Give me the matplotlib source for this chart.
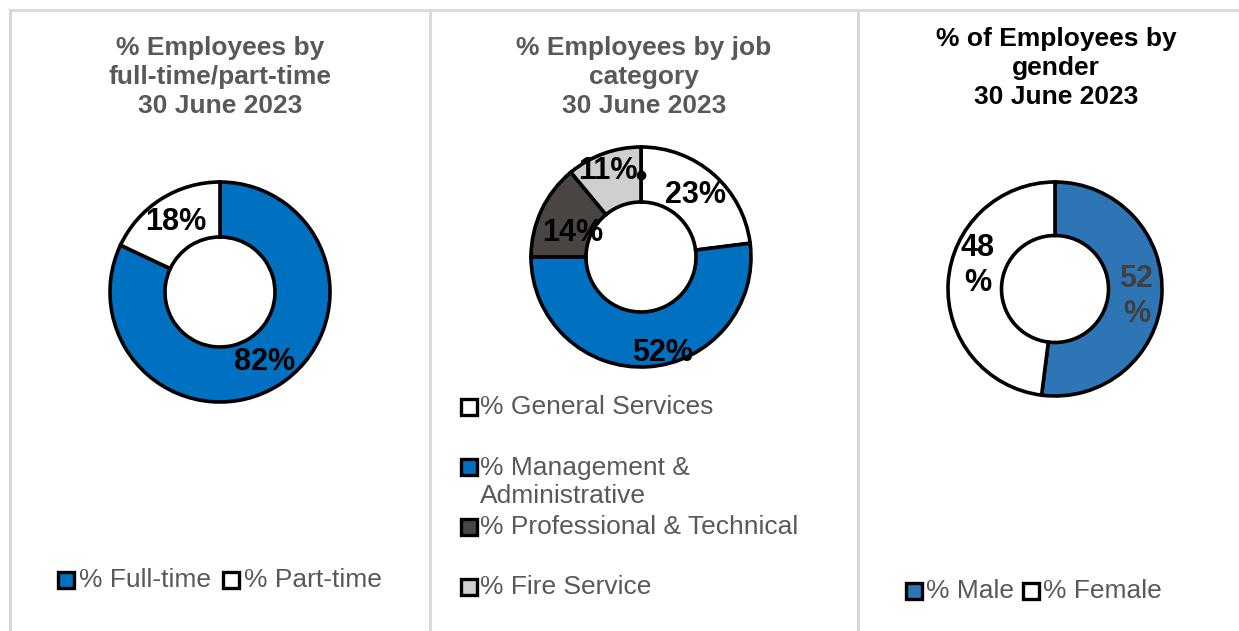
import matplotlib
matplotlib.use("Agg")
from matplotlib import pyplot as plt
from matplotlib.patches import Rectangle
from matplotlib.lines import Line2D

plt.rcParams['font.family'] = ['Liberation Sans', 'DejaVu Sans']

W, H = 1239, 631

# Data
ft_labels = ["% Full-time", "% Part-time"]
ft_values = [82, 18]
ft_colors = ["#0070C0", "#FFFFFF"]

job_labels = ["% General Services", "% Management &\nAdministrative",
              "% Professional & Technical", "% Fire Service"]
job_values = [23, 52, 14, 11]
job_colors = ["#FFFFFF", "#0070C0", "#4A4542", "#D0CECE"]

gender_labels = ["% Male", "% Female"]
gender_values = [52, 48]
gender_colors = ["#2E75B6", "#FFFFFF"]

TITLE_GREY = "#595959"


def fx(px):
    return px / W


def fy(py):
    # pixel from top -> figure fraction
    return 1 - py / H


def donut(fig, cx, cy, r, values, colors, fmt="%d%%"):
    pad = 1.06
    size = 2 * r * pad
    ax = fig.add_axes([fx(cx - size / 2), fy(cy + size / 2), fx(size), size / H])
    wedges, texts, autotexts = ax.pie(
        values, colors=colors, startangle=90, counterclock=False,
        autopct=fmt, pctdistance=0.75,
        wedgeprops=dict(width=0.5, edgecolor="black", linewidth=2.6),
        textprops=dict(fontsize=22, fontweight="bold", color="black"))
    ax.set_aspect("auto")
    ax.set_xlim(-pad, pad)
    ax.set_ylim(-pad, pad)
    ax.axis("off")
    return ax, wedges, autotexts


def box(fig, x, y, color):
    s = 16
    fig.patches.append(Rectangle((fx(x), fy(y + s / 2)), fx(s), s / H,
                                 facecolor=color, edgecolor="black", linewidth=2.4,
                                 transform=fig.transFigure, figure=fig))


def legend_text(fig, x, y, s):
    fig.text(fx(x), fy(y), s, fontsize=19, color=TITLE_GREY, ha="left", va="center",
             linespacing=1.26)


fig = plt.figure(figsize=(W / 100, H / 100), dpi=100)

# panel borders
border = "#D9D9D9"
fig.lines.append(Line2D([fx(10), fx(1238)], [fy(9.5), fy(9.5)], color=border, lw=2,
                        transform=fig.transFigure))
for x in [10, 430, 858]:
    fig.lines.append(Line2D([fx(x), fx(x)], [fy(9.5), fy(H)], color=border, lw=2.2,
                            transform=fig.transFigure))

# Panel 1: full-time / part-time
fig.text(fx(220), fy(77), "% Employees by\nfull-time/part-time\n30 June 2023",
         fontsize=19, fontweight="bold", color=TITLE_GREY, ha="center", va="center",
         linespacing=1.26)
ax1, w1, t1 = donut(fig, 220, 292, 110, ft_values, ft_colors)
box(fig, 58, 580, ft_colors[0])
legend_text(fig, 79, 580, ft_labels[0])
box(fig, 223, 580, ft_colors[1])
legend_text(fig, 244, 580, ft_labels[1])

# Panel 2: job category
fig.text(fx(644), fy(77), "% Employees by job\ncategory\n30 June 2023",
         fontsize=19, fontweight="bold", color=TITLE_GREY, ha="center", va="center",
         linespacing=1.26)
ax2, w2, t2 = donut(fig, 641, 257, 110, job_values, job_colors)
t2[1].set_position((0.2, -0.87))
t2[2].set_position((-0.62, 0.22))
t2[3].set_position((-0.3, 0.78))
ax2.plot([0], [0.75], "o", color="black", ms=6)
leg_y = [407, 467, 527, 587]
for lab, col, y in zip(job_labels, job_colors, leg_y):
    box(fig, 461, y, col)
    n = lab.count("\n")
    legend_text(fig, 480, y + n * 15, lab)

# Panel 3: gender
fig.text(fx(1056), fy(68), "% of Employees by\ngender\n30 June 2023",
         fontsize=19, fontweight="bold", color="black", ha="center", va="center",
         linespacing=1.26)
ax3, w3, t3 = donut(fig, 1055, 289, 107, gender_values, gender_colors, fmt="%d\n%%")
for t in t3:
    t.set_linespacing(1.24)
t3[0].set_color("#404040")
t3[0].set_position((0.76, -0.07))
t3[1].set_position((-0.72, 0.22))
box(fig, 906, 591, gender_colors[0])
legend_text(fig, 926, 591, gender_labels[0])
box(fig, 1023, 591, gender_colors[1])
legend_text(fig, 1043, 591, gender_labels[1])

fig.savefig("out.png", dpi=100)
